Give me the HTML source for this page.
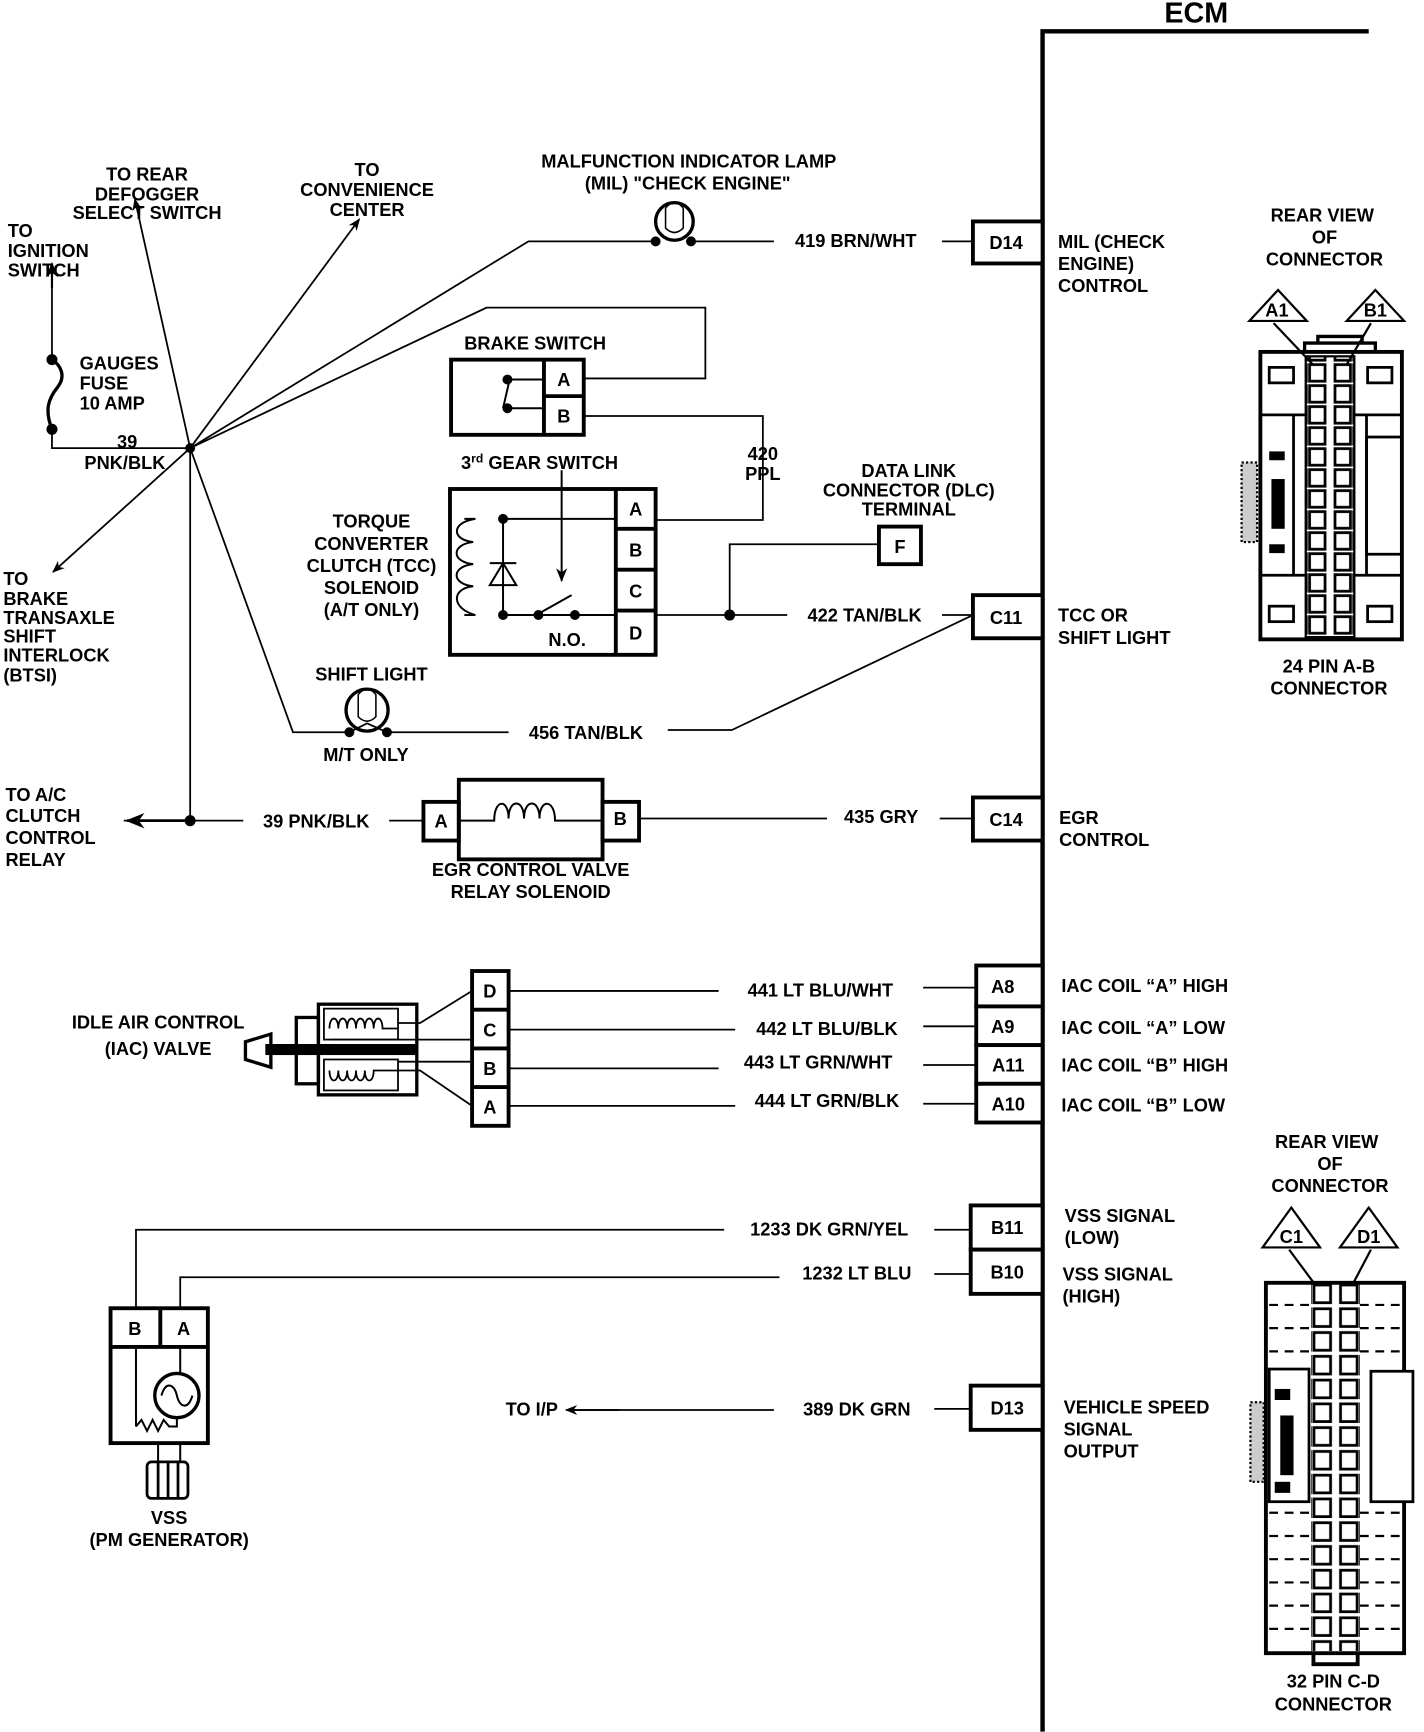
<!DOCTYPE html>
<html><head><meta charset="utf-8"><style>
html,body{margin:0;padding:0;background:#fff}
svg{display:block}
text{font-family:"Liberation Sans",Arial,sans-serif;font-weight:bold;font-size:16.5px;fill:#000}
.c{text-anchor:middle}
</style></head><body>
<svg width="1424" height="1732" viewBox="0 0 1288 1566" xmlns="http://www.w3.org/2000/svg">
<defs>
<marker id="ar" viewBox="0 0 10 10" refX="9" refY="5" markerWidth="7" markerHeight="7" orient="auto-start-reverse"><path d="M0,1 L10,5 L0,9 L3,5 Z" fill="#000"/></marker>
<pattern id="p1" x="1183" y="328" width="40" height="19" patternUnits="userSpaceOnUse"><rect x="1.5" y="1.5" width="14" height="15" fill="#fff" stroke="#000" stroke-width="2.5"/><rect x="24.5" y="1.5" width="14" height="15" fill="#fff" stroke="#000" stroke-width="2.5"/></pattern>
<pattern id="p2" x="1187" y="1160" width="42" height="21.5" patternUnits="userSpaceOnUse"><rect x="1.5" y="2" width="15" height="16" fill="#fff" stroke="#000" stroke-width="2.5"/><rect x="25.5" y="2" width="15" height="16" fill="#fff" stroke="#000" stroke-width="2.5"/></pattern>
</defs>
<g fill="none" stroke="#000">
<path d="M943,1566 V28 H1238" stroke-width="4"/>
<g stroke-width="3.5" fill="#fff">
<rect x="880" y="200" width="63" height="38"/>
<rect x="880" y="538" width="63" height="39"/>
<rect x="880" y="721" width="63" height="39"/>
<rect x="883" y="873" width="60" height="37"/>
<rect x="883" y="910" width="60" height="35"/>
<rect x="883" y="945" width="60" height="35"/>
<rect x="883" y="980" width="60" height="35"/>
<rect x="878" y="1090" width="65" height="40"/>
<rect x="878" y="1130" width="65" height="40"/>
<rect x="878" y="1253" width="65" height="40"/>
</g>
<g stroke-width="1.6">
<path d="M852,218 H880 M625,218 H700 M593,218 H478 L172,405"/>
<circle cx="610" cy="200" r="17" stroke-width="3"/>
<path d="M602,188 Q610,178 618,188 V206 Q610,214 602,206 Z" stroke-width="1.4"/>
<path d="M172,405 L440,278 H638 V342 H528 M528,376 H690 V470 H593"/>
<path d="M172,405 L325,198" marker-end="url(#ar)"/>
<path d="M172,405 L122,180" marker-end="url(#ar)"/>
<path d="M172,405 L48,517" marker-end="url(#ar)"/>
<path d="M172,405 H47 V388 M47,325 V250" />
<path d="M47,260 V238" marker-end="url(#ar)" stroke-width="2"/>
<path d="M47,388 C40,370 44,360 52,350 C60,340 55,330 47,325" stroke-width="3"/>
<path d="M593,556 H712 M852,556 H880 M660,556 V492 H795"/>
<path d="M172,405 L265,662 H312 M350,662 H460 M604,660 H662 L880,556"/>
<path d="M172,405 V742 M220,742 H112" />
<path d="M172,742 H115" marker-end="url(#ar)" stroke-width="2.5"/>
<path d="M352,742 H383 M578,740 H748 M850,740 H880"/>
<path d="M460,896 H650 M835,893 H883 M460,931 H665 M835,928 H883 M460,966 H650 M835,963 H883 M460,1000 H665 M835,998 H883"/>
<path d="M360,925 H380 L427,896 M300,940 H427 M360,960 H427 M360,968 H380 L427,1000"/>
<path d="M845,1112 H878 M655,1112 H123 V1183 M845,1152 H878 M705,1155 H163 V1183 M845,1274 H878 M700,1275 H515"/>
<path d="M560,1275 H512" marker-end="url(#ar)"/>
</g>
<circle cx="172" cy="405" r="4" fill="#000"/>
<circle cx="172" cy="742" r="4.5" fill="#000"/>
<circle cx="660" cy="556" r="4.5" fill="#000"/>
<circle cx="47" cy="388" r="4.5" fill="#000"/>
<circle cx="47" cy="325" r="4.5" fill="#000"/>
<circle cx="593" cy="218" r="4" fill="#000"/>
<circle cx="625" cy="218" r="4" fill="#000"/>
<circle cx="332" cy="642" r="19" stroke-width="3"/>
<path d="M324,628 Q332,618 340,628 V648 Q332,656 324,648 Z" stroke-width="1.4"/>
<path d="M316,662 L332,654 L350,662" stroke-width="1.6"/>
<circle cx="316" cy="662" r="4" fill="#000"/><circle cx="350" cy="662" r="4" fill="#000"/>
<g stroke-width="3.5"><rect x="408" y="325" width="120" height="68"/><path d="M492,325 V393 M492,358 H528"/></g>
<path d="M459,343 H492 M459,369 H492 M461,343 L455,369" stroke-width="1.8"/>
<circle cx="459" cy="343" r="4" fill="#000"/><circle cx="459" cy="369" r="4" fill="#000"/>
<g stroke-width="3.5"><rect x="407" y="442" width="186" height="150"/><path d="M557,442 V592 M557,478 H593 M557,515 H593 M557,552 H593"/></g>
<g stroke-width="1.8">
<path d="M455,469 H557 M455,556 H557 M455,469 V556 M430,469 H420 M430,556 H420"/>
<path d="M430,469 C408,472 408,488 428,490 C408,492 408,508 428,510 C408,512 408,528 428,530 C408,532 408,550 430,556"/>
<path d="M443,529 H467 L455,509 Z M443,509 H467"/>
<path d="M485,556 L517,538"/>
<path d="M508,425 V525" marker-end="url(#ar)"/>
</g>
<circle cx="455" cy="469" r="4" fill="#000"/><circle cx="455" cy="556" r="4" fill="#000"/><circle cx="487" cy="556" r="4" fill="#000"/><circle cx="520" cy="556" r="4" fill="#000"/>
<rect x="795" y="476" width="38" height="34" stroke-width="3.5"/>
<g stroke-width="3.5">
<rect x="383" y="725" width="32" height="35"/><rect x="415" y="705" width="130" height="72"/><rect x="545" y="725" width="33" height="35"/>
</g>
<path d="M415,742 H447 C447,722 460,722 460,740 C460,722 474,722 474,740 C474,722 488,722 488,740 C488,722 502,722 502,742 V742 H545" stroke-width="1.8"/>
<g stroke-width="3">
<rect x="288" y="908" width="89" height="82"/>
<rect x="268" y="920" width="20" height="60"/>
<path d="M245,935 L222,942 V958 L245,965 Z"/>
</g>
<rect x="240" y="944" width="137" height="10" fill="#000" stroke="none"/>
<g stroke-width="1.6"><rect x="293" y="912" width="67" height="28"/><rect x="293" y="958" width="67" height="28"/>
<path d="M298,930 C298,918 306,918 306,930 C306,918 314,918 314,930 C314,918 322,918 322,930 C322,918 330,918 330,930 C330,918 338,918 338,930 C338,918 346,918 346,930 H360"/>
<path d="M298,968 C298,980 306,980 306,968 C306,980 314,980 314,968 C314,980 322,980 322,968 C322,980 330,980 330,968 C330,980 338,980 338,968 H360"/></g>
<g stroke-width="3.5"><rect x="427" y="878" width="33" height="140"/><path d="M427,913 H460 M427,948 H460 M427,983 H460"/></g>
<g stroke-width="3.5"><rect x="100" y="1183" width="88" height="122"/><path d="M100,1218 H188 M145,1183 V1218"/></g>
<g stroke-width="1.8">
<path d="M123,1218 V1290 M163,1218 V1242 M123,1290 L128,1284 L133,1294 L138,1284 L143,1294 L148,1284 L153,1290 H160 V1282"/>
<circle cx="160" cy="1262" r="20" stroke-width="3"/>
<path d="M146,1262 C150,1248 158,1252 160,1262 C162,1272 170,1276 174,1262"/>
<path d="M143,1305 V1322 M163,1305 V1322"/>
</g>
<g stroke-width="2.5"><rect x="133" y="1322" width="37" height="33" rx="4"/><path d="M143,1322 V1355 M152,1322 V1355 M161,1322 V1355"/></g>
<g stroke-width="2">
<path d="M1130,290 L1156,262 L1182,290 Z M1218,290 L1244,262 L1270,290 Z"/>
<path d="M1152,292 L1188,330 M1240,292 L1216,333"/>
</g>
<rect x="1140" y="318" width="128" height="260" stroke-width="3.5"/>
<path d="M1192,310 V304 H1232 V310 M1180,318 V310 H1244 V318" stroke-width="3"/>
<rect x="1181" y="322" width="44" height="254" fill="url(#p1)" stroke="#000" stroke-width="2"/>
<g stroke-width="2.5">
<rect x="1148" y="332" width="22" height="14"/><rect x="1237" y="332" width="22" height="14"/>
<rect x="1148" y="548" width="22" height="14"/><rect x="1237" y="548" width="22" height="14"/>
<path d="M1140,375 H1181 M1225,375 H1268 M1140,520 H1181 M1225,520 H1268 M1170,375 V520 M1236,375 V520"/>
<rect x="1236" y="395" width="32" height="106"/>
</g>
<rect x="1148" y="408" width="14" height="8" fill="#000" stroke="none"/>
<rect x="1150" y="433" width="12" height="45" fill="#000" stroke="none"/>
<rect x="1148" y="492" width="14" height="8" fill="#000" stroke="none"/>
<rect x="1123" y="418" width="14" height="72" fill="#ccc" stroke="#000" stroke-width="2" stroke-dasharray="2 2"/>
<g stroke-width="2">
<path d="M1142,1128 L1168,1092 L1194,1128 Z M1212,1128 L1238,1092 L1264,1128 Z"/>
<path d="M1166,1130 L1192,1165 M1240,1130 L1220,1168"/>
</g>
<rect x="1145" y="1160" width="125" height="335" stroke-width="3.5"/>
<path d="M1188,1495 V1505 H1228 V1495" stroke-width="3.5"/>
<rect x="1186" y="1160" width="44" height="333" fill="url(#p2)" stroke="none"/>
<g stroke-width="2" stroke-dasharray="8 6">
<path d="M1148,1180 H1186 M1148,1201 H1186 M1148,1222 H1186 M1230,1180 H1268 M1230,1201 H1268 M1230,1222 H1268
M1148,1368 H1186 M1148,1389 H1186 M1148,1410 H1186 M1148,1431 H1186 M1148,1452 H1186 M1148,1473 H1186
M1230,1368 H1268 M1230,1389 H1268 M1230,1410 H1268 M1230,1431 H1268 M1230,1452 H1268 M1230,1473 H1268"/>
</g>
<g stroke-width="2.5"><rect x="1148" y="1238" width="36" height="120"/><rect x="1240" y="1240" width="38" height="118" fill="#fff"/></g>
<rect x="1153" y="1256" width="14" height="10" fill="#000" stroke="none"/>
<rect x="1158" y="1280" width="12" height="54" fill="#000" stroke="none"/>
<rect x="1153" y="1340" width="14" height="10" fill="#000" stroke="none"/>
<rect x="1131" y="1268" width="12" height="72" fill="#ccc" stroke="#000" stroke-width="2" stroke-dasharray="2 2"/>
</g>

<text x="1082" y="20" class="c" style="font-size:26px">ECM</text>
<text x="910" y="225" class="c">D14</text>
<text x="910" y="564" class="c">C11</text>
<text x="910" y="747" class="c">C14</text>
<text x="907" y="898" class="c">A8</text>
<text x="907" y="934" class="c">A9</text>
<text x="912" y="969" class="c">A11</text>
<text x="912" y="1004" class="c">A10</text>
<text x="911" y="1116" class="c">B11</text>
<text x="911" y="1156" class="c">B10</text>
<text x="911" y="1279" class="c">D13</text>
<text x="957" y="224">MIL (CHECK</text><text x="957" y="244">ENGINE)</text><text x="957" y="264">CONTROL</text>
<text x="957" y="562">TCC OR</text><text x="957" y="582">SHIFT LIGHT</text>
<text x="958" y="745">EGR</text><text x="958" y="765">CONTROL</text>
<text x="960" y="897">IAC COIL “A” HIGH</text>
<text x="960" y="935">IAC COIL “A” LOW</text>
<text x="960" y="969">IAC COIL “B” HIGH</text>
<text x="960" y="1005">IAC COIL “B” LOW</text>
<text x="963" y="1105">VSS SIGNAL</text><text x="963" y="1125">(LOW)</text>
<text x="961" y="1158">VSS SIGNAL</text><text x="961" y="1178">(HIGH)</text>
<text x="962" y="1278">VEHICLE SPEED</text><text x="962" y="1298">SIGNAL</text><text x="962" y="1318">OUTPUT</text>
<text x="1196" y="200" class="c">REAR VIEW</text><text x="1198" y="220" class="c">OF</text><text x="1198" y="240" class="c">CONNECTOR</text>
<text x="1155" y="286" class="c">A1</text><text x="1244" y="286" class="c">B1</text>
<text x="1202" y="608" class="c">24 PIN  A-B</text><text x="1202" y="628" class="c">CONNECTOR</text>
<text x="1200" y="1038" class="c">REAR VIEW</text><text x="1203" y="1058" class="c">OF</text><text x="1203" y="1078" class="c">CONNECTOR</text>
<text x="1168" y="1124" class="c">C1</text><text x="1238" y="1124" class="c">D1</text>
<text x="1206" y="1526" class="c">32  PIN C-D</text><text x="1206" y="1547" class="c">CONNECTOR</text>
<text x="623" y="151" class="c">MALFUNCTION INDICATOR LAMP</text>
<text x="622" y="171" class="c">(MIL) "CHECK ENGINE"</text>
<text x="774" y="223" class="c">419 BRN/WHT</text>
<text x="133" y="163" class="c">TO REAR</text><text x="133" y="181" class="c">DEFOGGER</text><text x="133" y="198" class="c">SELECT  SWITCH</text>
<text x="332" y="159" class="c">TO</text><text x="332" y="177" class="c">CONVENIENCE</text><text x="332" y="195" class="c">CENTER</text>
<text x="7" y="214">TO</text><text x="7" y="232">IGNITION</text><text x="7" y="250">SWITCH</text>
<text x="72" y="334">GAUGES</text><text x="72" y="352">FUSE</text><text x="72" y="370">10 AMP</text>
<text x="115" y="405" class="c">39</text><text x="113" y="424" class="c">PNK/BLK</text>
<text x="484" y="316" class="c">BRAKE SWITCH</text>
<text x="510" y="349" class="c">A</text><text x="510" y="382" class="c">B</text>
<text x="488" y="424" class="c">3<tspan style="font-size:11px" dy="-6">rd</tspan><tspan dy="6"> GEAR SWITCH</tspan></text>
<text x="690" y="416" class="c">420</text><text x="690" y="434" class="c">PPL</text>
<text x="575" y="466" class="c">A</text><text x="575" y="503" class="c">B</text><text x="575" y="540" class="c">C</text><text x="575" y="578" class="c">D</text>
<text x="513" y="584" class="c">N.O.</text>
<text x="336" y="477" class="c">TORQUE</text><text x="336" y="497" class="c">CONVERTER</text><text x="336" y="517" class="c">CLUTCH (TCC)</text><text x="336" y="537" class="c">SOLENOID</text><text x="336" y="557" class="c">(A/T ONLY)</text>
<text x="822" y="431" class="c">DATA LINK</text><text x="822" y="449" class="c">CONNECTOR (DLC)</text><text x="822" y="466" class="c">TERMINAL</text>
<text x="814" y="500" class="c">F</text>
<text x="782" y="562" class="c">422 TAN/BLK</text>
<text x="3" y="529">TO</text><text x="3" y="547">BRAKE</text><text x="3" y="564">TRANSAXLE</text><text x="3" y="581">SHIFT</text><text x="3" y="598">INTERLOCK</text><text x="3" y="616">(BTSI)</text>
<text x="336" y="615" class="c">SHIFT LIGHT</text>
<text x="331" y="688" class="c">M/T ONLY</text>
<text x="530" y="668" class="c">456 TAN/BLK</text>
<text x="5" y="724">TO A/C</text><text x="5" y="743">CLUTCH</text><text x="5" y="763">CONTROL</text><text x="5" y="783">RELAY</text>
<text x="286" y="748" class="c">39 PNK/BLK</text>
<text x="399" y="748" class="c">A</text><text x="561" y="746" class="c">B</text>
<text x="797" y="744" class="c">435 GRY</text>
<text x="480" y="792" class="c">EGR CONTROL VALVE</text><text x="480" y="812" class="c">RELAY SOLENOID</text>
<text x="443" y="902" class="c">D</text><text x="443" y="937" class="c">C</text><text x="443" y="972" class="c">B</text><text x="443" y="1007" class="c">A</text>
<text x="143" y="930" class="c">IDLE AIR CONTROL</text><text x="143" y="954" class="c">(IAC) VALVE</text>
<text x="742" y="901" class="c">441 LT BLU/WHT</text>
<text x="748" y="936" class="c">442 LT BLU/BLK</text>
<text x="740" y="966" class="c">443 LT GRN/WHT</text>
<text x="748" y="1001" class="c">444 LT GRN/BLK</text>
<text x="750" y="1117" class="c">1233 DK GRN/YEL</text>
<text x="775" y="1157" class="c">1232 LT BLU</text>
<text x="122" y="1207" class="c">B</text><text x="166" y="1207" class="c">A</text>
<text x="481" y="1280" class="c">TO I/P</text>
<text x="775" y="1280" class="c">389 DK GRN</text>
<text x="153" y="1378" class="c">VSS</text><text x="153" y="1398" class="c">(PM GENERATOR)</text>
</svg>
</body></html>
